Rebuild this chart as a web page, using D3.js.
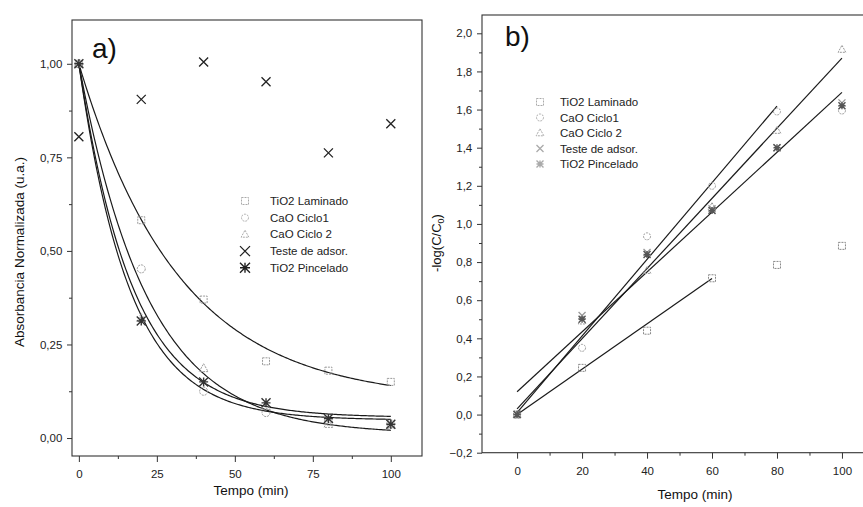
<!DOCTYPE html>
<html><head><meta charset="utf-8">
<script src="https://cdn.jsdelivr.net/npm/d3@7/dist/d3.min.js"></script>
<style>
body{margin:0;background:#fff;}
svg{display:block;font-family:"Liberation Sans",Arial,sans-serif;}
</style></head>
<body><svg id="c" width="863" height="507"></svg>
<script>
// ---------- DATA ----------
const seriesNames = ["TiO2 Laminado","CaO Ciclo1","CaO Ciclo 2","Teste de adsor.","TiO2 Pincelado"];
const time = [0,20,40,60,80,100];
// panel a) normalized absorbance
const aLaminado  = [1.00,0.582,0.37,0.205,0.18,0.15];
const aCiclo1    = [1.00,0.452,0.125,0.068,0.045,0.038];
const aCiclo2    = [1.00,0.32,0.186,0.085,0.037,0.035];
const aAdsor     = [0.805,0.905,1.005,0.952,0.762,0.84];
const aPincelado = [1.00,0.313,0.15,0.094,0.052,0.037];
// exponential decay fits y = y0 + A*exp(-t/tau)
const fitY0  = [0.10,0.01,0.055,0.048];
const fitA   = [0.90,0.99,0.945,0.952];
const fitTau = [32.2,22.1,17.3,16.3];
// panel b) -log(C/C0)
const bLaminado  = [0,0.245,0.44,0.715,0.785,0.885];
const bCiclo1    = [0,0.35,0.935,1.20,1.59,1.595];
const bCiclo2    = [0,0.49,0.755,1.09,1.49,1.915];
const bAdsor     = [0,0.52,0.85,1.08,1.40,1.635];
const bPincelado = [0,0.50,0.84,1.07,1.40,1.62];
// linear fits: [t0, t1, intercept, slope]
const linT0 = [0,0,0,0];
const linT1 = [60,80,100,100];
const linB  = [0.0,0.01,0.03,0.12];
const linM  = [0.0119,0.0201,0.0184,0.0157];
// ticks
const aXTicks = [0,25,50,75,100];
const aYTicks = [0,0.25,0.5,0.75,1.0];
const bXTicks = [0,20,40,60,80,100];
const bYTicks = [-0.2,0,0.2,0.4,0.6,0.8,1.0,1.2,1.4,1.6,1.8,2.0];

const svg = d3.select("#c");
const fmtComma = d => d3.format(".2f")(d).replace(".",",");
const fmtComma1 = d => d3.format(".1f")(d).replace(".",",").replace("-0,0","0,0");

function marker(g, type, x, y, col, sz, dash){
  const s = sz;
  let el;
  if(type==="square"){
    el = g.append("rect").attr("x",x-s/2).attr("y",y-s/2).attr("width",s).attr("height",s)
     .attr("fill","none").attr("stroke",col).attr("stroke-width",1);
  } else if(type==="circle"){
    el = g.append("circle").attr("cx",x).attr("cy",y).attr("r",s/2).attr("fill","none").attr("stroke",col).attr("stroke-width",1);
  } else if(type==="triangle"){
    el = g.append("path").attr("d",`M${x},${y-s*0.6}L${x+s*0.55},${y+s*0.4}L${x-s*0.55},${y+s*0.4}Z`)
     .attr("fill","none").attr("stroke",col).attr("stroke-width",1);
  } else if(type==="x"){
    el = g.append("path").attr("d",`M${x-s/2},${y-s/2}L${x+s/2},${y+s/2}M${x-s/2},${y+s/2}L${x+s/2},${y-s/2}`)
     .attr("stroke",col).attr("stroke-width",1.3);
  } else if(type==="star"){
    el = g.append("path").attr("d",`M${x-s/2},${y-s/2}L${x+s/2},${y+s/2}M${x-s/2},${y+s/2}L${x+s/2},${y-s/2}M${x},${y-s/2}L${x},${y+s/2}M${x-s/2},${y}L${x+s/2},${y}`)
     .attr("stroke",col).attr("stroke-width",1.4);
  }
  if(dash) el.attr("stroke-dasharray","2,1");
}
const types = ["square","circle","triangle","x","star"];

function drawAxes(g, x, y, xt, xMinor, yt, yMinor, xfmt, yfmt){
  const [x0,x1] = x.range(), [y0,y1] = y.range();
  g.append("rect").attr("x",x0).attr("y",y1).attr("width",x1-x0).attr("height",y0-y1)
   .attr("fill","none").attr("stroke","#333").attr("stroke-width",1.1);
  const xa = g.append("g").attr("transform",`translate(0,${y0})`)
    .call(d3.axisBottom(x).tickValues(xt).tickFormat(xfmt).tickSize(6).tickSizeOuter(0));
  const xm = g.append("g").attr("transform",`translate(0,${y0})`)
    .call(d3.axisBottom(x).tickValues(xMinor).tickFormat("").tickSize(3).tickSizeOuter(0));
  const ya = g.append("g").attr("transform",`translate(${x0},0)`)
    .call(d3.axisLeft(y).tickValues(yt).tickFormat(yfmt).tickSize(5).tickSizeOuter(0));
  const ym = g.append("g").attr("transform",`translate(${x0},0)`)
    .call(d3.axisLeft(y).tickValues(yMinor).tickFormat("").tickSize(3).tickSizeOuter(0));
  [xa,xm,ya,ym].forEach(a=>{a.select(".domain").remove(); a.selectAll("line").attr("stroke","#333");});
  xa.selectAll("text").attr("font-size",11.5).attr("fill","#222").attr("dy","1.15em");
  ya.selectAll("text").attr("font-size",11.5).attr("fill","#222").attr("dx","-0.15em");
}

// ---------- PANEL A ----------
{
  const x = d3.scaleLinear().domain([-2.2,110]).range([72,422]);
  const y = d3.scaleLinear().domain([-0.048,1.117]).range([456,20]);
  const g = svg.append("g");
  drawAxes(g,x,y,aXTicks,[12.5,37.5,62.5,87.5],aYTicks,[0.125,0.375,0.625,0.875],d3.format("d"),fmtComma);
  const line = d3.line().x(d=>x(d[0])).y(d=>y(d[1])).curve(d3.curveLinear);
  fitY0.forEach((y0,i)=>{
    const pts = d3.range(0,100.01,0.5).map(t=>[t, y0 + fitA[i]*Math.exp(-t/fitTau[i])]);
    g.append("path").attr("d",line(pts)).attr("fill","none").attr("stroke","#1a1a1a").attr("stroke-width",1.2);
  });
  const data = [aLaminado,aCiclo1,aCiclo2,aAdsor,aPincelado];
  const cols = ["#999","#999","#999","#222","#333"];
  const sizes = [7,8,8,9,9];
  data.forEach((arr,i)=>arr.forEach((v,j)=>marker(g,types[i],x(time[j]),y(v),cols[i],sizes[i],i<3)));
  g.append("text").attr("x",92).attr("y",58).attr("font-size",28).attr("fill","#111").text("a)");
  seriesNames.forEach((n,i)=>{
    const yy = 201 + i*16.7;
    marker(g,types[i],245,yy,i>=3?"#222":"#aaa",i>=3?10:7,i<3);
    g.append("text").attr("x",270).attr("y",yy+4).attr("font-size",11.5).attr("fill","#222").text(n);
  });
  g.append("text").attr("x",251).attr("y",495).attr("text-anchor","middle").attr("font-size",13.5).attr("fill","#111").text("Tempo (min)");
  g.append("text").attr("transform","translate(24,252) rotate(-90)").attr("text-anchor","middle")
   .attr("font-size",13.5).attr("fill","#111").text("Absorbancia Normalizada (u.a.)");
}

// ---------- PANEL B ----------
{
  const x = d3.scaleLinear().domain([-10.8,107.4]).range([482,866]);
  const y = d3.scaleLinear().domain([-0.2,2.096]).range([452.7,15]);
  const g = svg.append("g");
  const yMinor = d3.range(-0.1,2.05,0.2).map(v=>+v.toFixed(2));
  drawAxes(g,x,y,bXTicks,[10,30,50,70,90],bYTicks,yMinor,d3.format("d"),fmtComma1);
  linB.forEach((b,i)=>{
    g.append("line").attr("x1",x(linT0[i])).attr("y1",y(b+linM[i]*linT0[i]))
     .attr("x2",x(linT1[i])).attr("y2",y(b+linM[i]*linT1[i]))
     .attr("stroke","#1a1a1a").attr("stroke-width",1.2);
  });
  const data = [bLaminado,bCiclo1,bCiclo2,bAdsor,bPincelado];
  const cols = ["#888","#999","#999","#999","#555"];
  data.forEach((arr,i)=>arr.forEach((v,j)=>marker(g,types[i],x(time[j]),y(v),cols[i],7,i<3)));
  g.append("text").attr("x",505).attr("y",46).attr("font-size",28).attr("fill","#111").text("b)");
  seriesNames.forEach((n,i)=>{
    const yy = 102 + i*15.5;
    marker(g,types[i],540,yy,"#aaa",7,i<3);
    g.append("text").attr("x",560).attr("y",yy+4).attr("font-size",11.5).attr("fill","#222").text(n);
  });
  g.append("text").attr("x",695).attr("y",499).attr("text-anchor","middle").attr("font-size",13.5).attr("fill","#111").text("Tempo (min)");
  const yl = g.append("text").attr("transform","translate(441,243) rotate(-90)").attr("text-anchor","middle")
   .attr("font-size",13).attr("fill","#111");
  yl.append("tspan").text("-log(C/C");
  yl.append("tspan").attr("font-size",9).attr("dy",3).text("0");
  yl.append("tspan").attr("dy",-3).text(")");
}
</script></body></html>
